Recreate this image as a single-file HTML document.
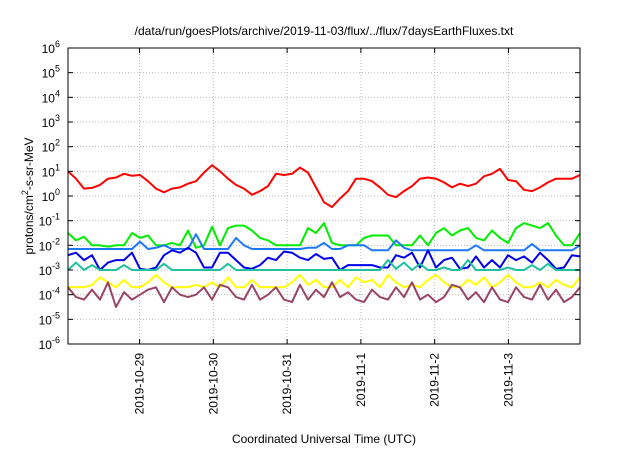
<!DOCTYPE html>
<html><head><meta charset="utf-8"><style>
body{margin:0;background:#fff;}
svg text{font-family:"Liberation Sans",sans-serif;fill:#000;}
</style></head><body>
<svg id="chart" width="640" height="448" viewBox="0 0 640 448" xmlns="http://www.w3.org/2000/svg">
<rect width="640" height="448" fill="#fff"/>
<text x="324" y="35" font-size="12" text-anchor="middle">/data/run/goesPlots/archive/2019-11-03/flux/../flux/7daysEarthFluxes.txt</text>
<g id="grid"></g><g id="series"></g><g id="axes"></g>
<text transform="translate(33,196) rotate(-90)" font-size="12" text-anchor="middle">protons/cm<tspan dy="-5" font-size="9">2</tspan><tspan dy="5">-s-sr-MeV</tspan></text>
<text x="324" y="443" font-size="12" text-anchor="middle">Coordinated Universal Time (UTC)</text>
</svg>
<script>
const tickLabels=["2019-10-29","2019-10-30","2019-10-31","2019-11-1","2019-11-2","2019-11-3"];
const tickDays=[1,2,3,4,5,6];
const yExps=[-6,-5,-4,-3,-2,-1,0,1,2,3,4,5,6];
const seriesColors=["#ff0000","#00ee00","#1e78ff","#0000ee","#20c0a0","#ffff00","#994466"];
const red=[1.0,0.7,0.3,0.33,0.45,0.7,0.75,0.9,0.82,0.85,0.6,0.3,0.15,0.3,0.35,0.5,0.6,0.95,1.25,1.0,0.7,0.45,0.3,0.05,0.2,0.4,0.9,0.85,0.9,1.15,0.95,0.35,-0.25,-0.45,-0.1,0.2,0.7,0.7,0.6,0.35,0.05,-0.05,0.2,0.4,0.7,0.75,0.7,0.55,0.35,0.5,0.4,0.5,0.8,0.9,1.1,0.65,0.6,0.25,0.2,0.35,0.55,0.7,0.7,0.7,0.85];
const green=[-1.5,-1.8,-1.65,-2,-2,-2.05,-2,-2,-1.5,-1.7,-1.6,-2,-2,-1.9,-2,-1.4,-2.1,-2,-1.25,-2,-1.3,-1.2,-1.2,-1.4,-1.7,-1.8,-2,-2,-2,-2,-1.3,-1.5,-1.1,-1.9,-2,-2,-2,-1.7,-1.6,-1.6,-1.6,-2,-2,-2,-1.6,-2,-1.5,-1.3,-1.6,-1.4,-1.3,-1.7,-1.8,-1.4,-1.7,-1.9,-1.3,-1.1,-1.2,-1.3,-1.1,-1.6,-2,-2,-1.5];
const lightBlue=[-2.15,-2.15,-2.15,-2.15,-2.15,-2.15,-2.15,-2.15,-2.15,-1.85,-2.15,-2.1,-2.0,-2.15,-2.15,-2.15,-1.55,-2.15,-2.15,-2.15,-2.15,-1.7,-2.0,-2.15,-2.15,-2.15,-2.15,-2.15,-2.15,-2.15,-2.1,-2.1,-1.9,-2.15,-2.15,-2.0,-2.0,-2.0,-2.2,-2.2,-2.2,-1.8,-2.1,-2.2,-2.2,-2.2,-2.2,-2.2,-2.2,-2.2,-2.2,-2.0,-2.2,-2.2,-2.2,-2.2,-2.2,-2.2,-1.95,-2.2,-2.2,-2.2,-2.2,-2.2,-2.0];
const darkBlue=[-2.4,-2.3,-2.6,-2.4,-3.0,-2.7,-2.6,-2.6,-2.3,-2.95,-3.0,-2.9,-2.4,-2.2,-2.3,-2.1,-2.3,-2.9,-2.9,-2.3,-2.3,-2.6,-2.9,-2.95,-2.8,-2.5,-2.6,-2.25,-2.3,-2.5,-2.6,-2.35,-2.55,-2.5,-3.0,-2.8,-2.8,-2.8,-2.8,-2.9,-2.9,-2.4,-2.5,-2.3,-2.9,-2.2,-2.9,-2.6,-2.5,-2.95,-2.9,-2.45,-2.9,-2.6,-2.9,-2.4,-2.6,-2.45,-2.7,-2.3,-2.6,-2.95,-2.9,-2.4,-2.45];
const teal=[-3.0,-2.7,-3.0,-2.8,-3.0,-3.0,-3.0,-2.8,-3.0,-3.0,-3.0,-3.0,-2.75,-3.0,-3.0,-3.0,-3.0,-3.0,-3.0,-3.0,-2.75,-3.0,-3.0,-3.0,-3.0,-3.0,-3.0,-3.0,-3.0,-3.0,-3.0,-3.0,-3.0,-3.0,-3.0,-3.0,-3.0,-3.0,-3.0,-3.0,-2.6,-2.95,-2.7,-3.0,-2.75,-3.0,-3.0,-2.9,-3.0,-3.0,-2.6,-3.0,-3.0,-3.0,-3.0,-2.9,-3.0,-3.0,-2.8,-3.0,-2.75,-3.0,-3.0,-3.0,-3.0];
const yellow=[-3.7,-3.7,-3.7,-3.6,-3.3,-3.5,-3.7,-3.4,-3.7,-3.7,-3.5,-3.2,-3.5,-3.7,-3.7,-3.7,-3.6,-3.7,-3.5,-3.7,-3.3,-3.7,-3.7,-3.4,-3.7,-3.7,-3.7,-3.7,-3.5,-3.2,-3.6,-3.4,-3.7,-3.7,-3.4,-3.7,-3.3,-3.5,-3.4,-3.7,-3.2,-3.5,-3.7,-3.6,-3.7,-3.4,-3.2,-3.5,-3.7,-3.7,-3.4,-3.6,-3.3,-3.7,-3.5,-3.2,-3.5,-3.7,-3.7,-3.5,-3.7,-3.4,-3.6,-3.7,-3.3];
const purple=[-3.7,-4.1,-4.2,-3.8,-4.2,-3.5,-4.5,-3.9,-4.2,-4.0,-3.8,-3.7,-4.3,-3.7,-4.0,-4.1,-4.0,-3.7,-4.2,-3.6,-3.7,-4.1,-4.2,-3.6,-4.2,-4.0,-3.7,-4.2,-4.3,-3.6,-4.2,-3.8,-4.1,-3.5,-4.1,-3.9,-4.2,-4.3,-3.8,-4.1,-4.2,-3.7,-4.1,-3.5,-4.2,-4.0,-4.3,-4.1,-3.6,-3.7,-4.2,-3.9,-4.3,-3.7,-4.2,-4.3,-3.7,-4.1,-4.2,-3.6,-4.2,-3.8,-4.3,-4.1,-3.7];
const allSeries=[red,green,lightBlue,darkBlue,teal,yellow,purple];
const seriesNames=["series-red","series-green","series-light-blue","series-dark-blue","series-teal","series-yellow","series-purple"];

const L=68,R=580,T=48,B=344, D0=0.03,D1=6.97;
const NS="http://www.w3.org/2000/svg";
function xs(d){return L+(d-D0)/(D1-D0)*(R-L);}
function ys(e){return B-(e+6)/12*(B-T);}
function mk(tag,attrs,parent){const e=document.createElementNS(NS,tag);for(const k in attrs)e.setAttribute(k,attrs[k]);parent.appendChild(e);return e;}
const grid=document.getElementById('grid'),axes=document.getElementById('axes'),ser=document.getElementById('series');
yExps.forEach(e=>{
  const y=ys(e);
  if(e>-6&&e<6){const g=mk('line',{x1:L,x2:R,y1:y,y2:y,stroke:'#bbb','stroke-dasharray':'1,2'},grid);
  
  }
  mk('line',{x1:L,x2:L+5,y1:y,y2:y,stroke:'#000'},axes);
  mk('line',{x1:R,x2:R-5,y1:y,y2:y,stroke:'#000'},axes);
  const t=mk('text',{x:60,y:y+5,'font-size':'12','text-anchor':'end'},axes);
  
  
  t.textContent='10';
  const s=mk('tspan',{dy:'-6','font-size':'9'},t);s.textContent=String(e);
});
tickDays.forEach((d,i)=>{
  const x=xs(d);
  const g=mk('line',{x1:x,x2:x,y1:T,y2:B,stroke:'#bbb','stroke-dasharray':'1,2'},grid);
  
  
  mk('line',{x1:x,x2:x,y1:B,y2:B-5,stroke:'#000'},axes);
  mk('line',{x1:x,x2:x,y1:T,y2:T+5,stroke:'#000'},axes);
  const t=mk('text',{transform:`translate(${x+4},353) rotate(-90)`,'font-size':'12','text-anchor':'end'},axes);
  
  
  t.textContent=tickLabels[i];
});
const frame=mk('rect',{x:L,y:T,width:R-L,height:B-T,fill:'none',stroke:'#000','stroke-width':'1'},axes);


allSeries.forEach((vals,si)=>{
  const n=vals.length;
  const pts=vals.map((v,i)=>xs(D0+(D1-D0)*i/(n-1)).toFixed(1)+','+ys(v).toFixed(1)).join(' ');
  const p=mk('polyline',{points:pts,fill:'none',stroke:seriesColors[si],'stroke-width':'2','stroke-linejoin':'round'},ser);
  
  
});
</script>
</body></html>
